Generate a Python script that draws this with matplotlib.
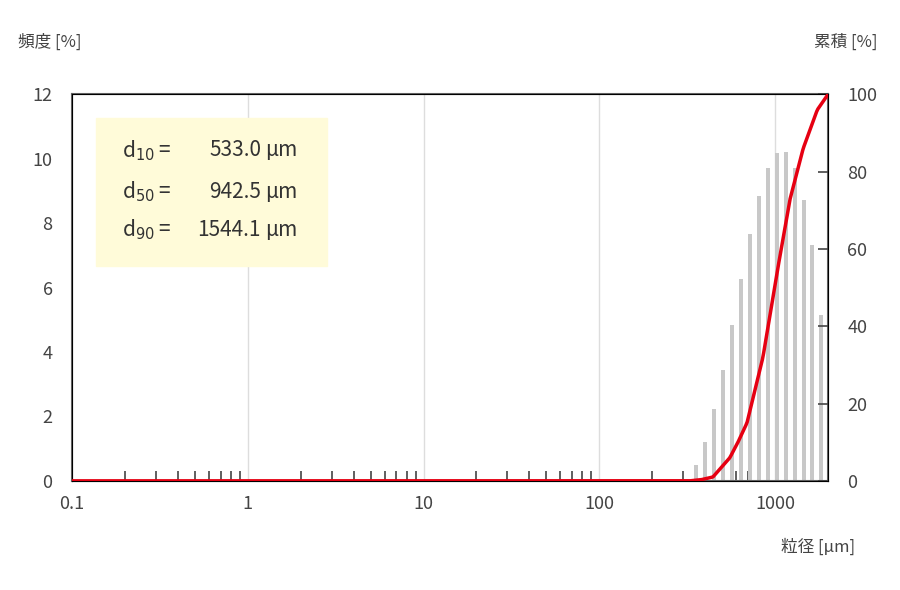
import numpy as np
import matplotlib
matplotlib.use("Agg")
import matplotlib.pyplot as plt
from matplotlib.ticker import FixedLocator, NullFormatter

plt.rcParams['font.family'] = ['Noto Sans CJK JP', 'DejaVu Sans']

bar_centers = [357 * 1.124 ** k for k in range(16)]
freq = [0.5, 1.22, 2.22, 3.44, 4.84, 6.28, 7.66, 8.85, 9.71, 10.19, 10.21, 9.71, 8.73, 7.33, 5.15, 3.1]
cum_x = [0.1, 300, 327, 380, 443, 553, 615, 692, 853, 1027, 1218, 1445, 1738, 2000]
cum_y = [0, 0, 0, 0.3, 1, 6, 10, 15, 32, 54, 73, 86, 96, 100]

fig = plt.figure(figsize=(9, 5.9), dpi=100)
ax = fig.add_axes([0.08, 0.185, 0.84, 0.655])
ax.set_xscale('log')
ax.set_xlim(0.1, 2000)
ax.set_ylim(0, 12)
r = 1.124
for c, h in zip(bar_centers, freq):
    l = c * r ** -0.22
    ax.bar(l, h, width=c * r ** 0.22 - l, align='edge', color='#c8c8c8', zorder=2)
for v in [1, 10, 100, 1000]:
    ax.axvline(v, color='#dddddd', lw=1, zorder=1)
ax.xaxis.set_major_locator(FixedLocator([0.1, 1, 10, 100, 1000]))
ax.set_xticklabels(['0.1', '1', '10', '100', '1000'])
minors = [m * 10.0 ** e for e in range(-1, 3) for m in range(2, 10)]
ax.xaxis.set_minor_locator(FixedLocator(minors))
ax.xaxis.set_minor_formatter(NullFormatter())
ax.tick_params(axis='x', which='minor', direction='in', length=7, width=1.2, color='#444')
ax.tick_params(axis='x', which='major', length=0, labelsize=13, colors='#444', pad=10)
ax.set_yticks(range(0, 13, 2))
ax.tick_params(axis='y', length=0, labelsize=13, colors='#444', pad=14)
for s in ax.spines.values():
    s.set_color('#666'); s.set_linewidth(1.5)

ax2 = ax.twinx()
ax2.set_ylim(0, 100)
ax2.set_yticks(range(0, 101, 20))
ax2.tick_params(axis='y', direction='in', length=7, width=1.2, color='#444', labelsize=13, labelcolor='#444', pad=14)
xs = np.logspace(-1, np.log10(2000), 600)
ax2.plot(xs, np.interp(np.log10(xs), np.log10(cum_x), cum_y), color='#e60012', lw=2.5, zorder=5)
ax2.set_xlim(0.1, 2000)

fig.text(0.02, 0.92, '頻度 [%]', fontsize=12, color='#444')
fig.text(0.975, 0.92, '累積 [%]', fontsize=12, color='#444', ha='right')
fig.text(0.95, 0.065, '粒径 [μm]', fontsize=12, color='#444', ha='right')

box = plt.Rectangle((0.107, 0.55), 0.256, 0.25, transform=fig.transFigure, color='#fffbd9', zorder=0)
fig.patches.append(box)
lines = [('d$_{10}$ =', '533.0', 0.745), ('d$_{50}$ =', '942.5', 0.675), ('d$_{90}$ =', '1544.1', 0.61)]
for lab, val, y in lines:
    fig.text(0.135, y, lab, fontsize=15, color='#333', va='center')
    fig.text(0.29, y, val, fontsize=15, color='#333', va='center', ha='right')
    fig.text(0.295, y, 'μm', fontsize=15, color='#333', va='center', style='italic')

fig.savefig('out.png')
